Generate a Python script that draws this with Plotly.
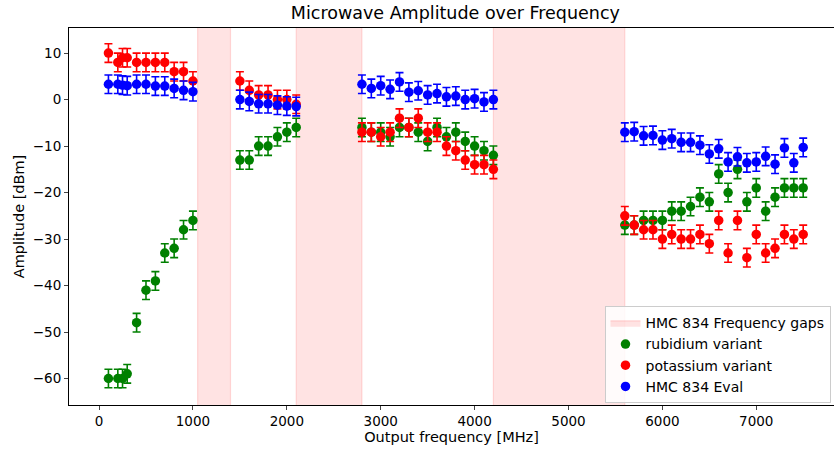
import plotly.graph_objects as go

# Data
f1 = [100, 200, 250, 300, 400, 500, 600, 700, 800, 900, 1000]
f2 = [1500, 1600, 1700, 1800, 1900, 2000, 2100]
f3 = [2800, 2900, 3000, 3100, 3200, 3300, 3400, 3500, 3600, 3700, 3800, 3900, 4000, 4100, 4200]
f4 = [5600, 5700, 5800, 5900, 6000, 6100, 6200, 6300, 6400, 6500,
      6600, 6700, 6800, 6900, 7000, 7100, 7200, 7300, 7400, 7500]
freqs = f1 + f2 + f3 + f4

rubidium = ([-60, -60, -60, -59, -48, -41, -39, -33, -32, -28, -26] +
            [-13, -13, -10, -10, -8, -7, -6] +
            [-6, -7, -7, -8, -6, -6, -7, -9, -6, -8, -7, -9, -10, -11, -12] +
            [-27, -27, -26, -26, -26, -24, -24, -23, -21, -22,
             -16, -20, -15, -22, -19, -24, -21, -19, -19, -19])
potassium = ([10, 8, 9, 9, 8, 8, 8, 8, 6, 6, 4] +
             [4, 2, 1, 1, 0, 0, -1] +
             [-7, -7, -8, -7, -4, -6, -4, -7, -7, -10, -11, -13, -14, -14, -15] +
             [-25, -27, -28, -28, -30, -29, -30, -30, -29, -31,
              -26, -33, -26, -34, -29, -33, -32, -29, -30, -29])
hmc_eval = ([3.3, 3.3, 3.1, 3.0, 3.3, 3.3, 2.9, 2.9, 2.4, 2.0, 1.7] +
            [0, -0.4, -0.9, -0.9, -1.2, -1.4, -1.5] +
            [3.3, 2.4, 3.0, 2.2, 3.8, 1.6, 1.9, 1.0, 1.3, 0.6, 0.75, 0.0, 0.2, -0.5, 0.0] +
            [-7.0, -6.9, -7.8, -7.7, -8.7, -8.4, -9.2, -9.2, -9.8, -11.7,
             -10.6, -13.4, -12.3, -13.6, -13.4, -12.2, -13.9, -10.4, -13.6, -10.3])
err = 2.0

gap_starts = [1050, 2100, 4200]
gap_ends = [1400, 2800, 5600]
y_span = [-70, 20]

x_ticks = [0, 1000, 2000, 3000, 4000, 5000, 6000, 7000]
y_ticks = [-60, -50, -40, -30, -20, -10, 0, 10]

font = "DejaVu Sans"

fig = go.Figure()

# gap regions as one filled trace
gx, gy = [], []
for s, e in zip(gap_starts, gap_ends):
    gx += [s, s, e, e, s, None]
    gy += [y_span[0], y_span[1], y_span[1], y_span[0], y_span[0], None]
fig.add_trace(go.Scatter(
    x=gx, y=gy, mode="lines", fill="toself",
    fillcolor="rgba(255,0,0,0.11)",
    line=dict(color="rgba(255,0,0,0.13)", width=1.2),
    name="HMC 834 Frequency gaps", hoverinfo="skip"))

for name, vals, col in [("rubidium variant", rubidium, "green"),
                        ("potassium variant", potassium, "red"),
                        ("HMC 834 Eval", hmc_eval, "blue")]:
    fig.add_trace(go.Scatter(
        x=freqs, y=vals, mode="markers", name=name,
        marker=dict(color=col, size=9.5, line=dict(width=0)),
        error_y=dict(type="constant", value=err, color=col, thickness=1.6, width=4)))

fig.update_layout(
    width=834, height=452,
    margin=dict(l=69, r=0, t=28, b=47, autoexpand=False),
    paper_bgcolor="white", plot_bgcolor="white",
    font=dict(family=font, size=13.5, color="black"),
    title=dict(text="Microwave Amplitude over Frequency", x=0.546, xanchor="center",
               y=0.971, yanchor="middle", font=dict(size=17.5, family=font, color="black")),
    showlegend=True,
    legend=dict(x=0.7, xanchor="left", y=0.262, yanchor="top",
                bgcolor="rgba(255,255,255,0.85)", bordercolor="#cccccc", borderwidth=1,
                font=dict(size=14, family=font, color="black"),
                tracegroupgap=0, itemwidth=30),
)
fig.update_xaxes(range=[-320, 7828], tickvals=x_ticks, ticks="outside", ticklen=4,
                 showline=True, linecolor="black", linewidth=1, mirror=True,
                 showgrid=False, zeroline=False, automargin=False,
                 title=dict(text="Output frequency [MHz]", font=dict(size=14.5, family=font), standoff=2),
                 tickfont=dict(size=13.5, family=font))
fig.update_yaxes(range=[-65.7, 15.4], tickvals=y_ticks, ticks="outside", ticklen=4,
                 showline=True, linecolor="black", linewidth=1, mirror=True,
                 showgrid=False, zeroline=False, automargin=False,
                 title=dict(text="Amplitude [dBm]", font=dict(size=14.5, family=font), standoff=4),
                 tickfont=dict(size=13.5, family=font))

fig.write_html("out.html", config={"displayModeBar": False},
               post_script="document.body.style.margin='0';document.body.style.overflow='hidden';")
